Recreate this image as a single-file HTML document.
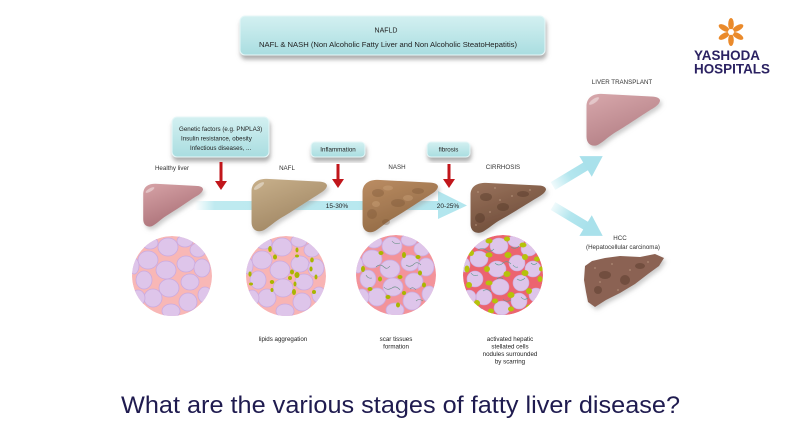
<!DOCTYPE html>
<html><head><meta charset="utf-8"><style>
html,body{margin:0;padding:0;background:#fff;}
svg{display:block;font-family:"Liberation Sans",sans-serif;}
</style></head><body>
<svg width="800" height="445" viewBox="0 0 800 445" xmlns="http://www.w3.org/2000/svg">
<defs>
  <path id="liver" d="M2,14 C3,5 10,1 22,1 L88,4 C96,4 100,6 100,9 C99,13 94,16 88,19 C75,26 55,38 39,46 C30,51 22,58 16,60 C8,62 2,58 2,50 Z"/>
  <linearGradient id="gH" x1="0" y1="0" x2="0.5" y2="1"><stop offset="0" stop-color="#d7a3a7"/><stop offset="1" stop-color="#aa7077"/></linearGradient>
  <linearGradient id="gT" x1="0" y1="0" x2="0.5" y2="1"><stop offset="0" stop-color="#d8a8ac"/><stop offset="1" stop-color="#b37f85"/></linearGradient>
  <linearGradient id="gN" x1="0" y1="0" x2="0.5" y2="1"><stop offset="0" stop-color="#c8b08b"/><stop offset="1" stop-color="#a08663"/></linearGradient>
  <linearGradient id="gS" x1="0" y1="0" x2="0.5" y2="1"><stop offset="0" stop-color="#bb8d63"/><stop offset="1" stop-color="#916944"/></linearGradient>
  <linearGradient id="gC" x1="0" y1="0" x2="0.5" y2="1"><stop offset="0" stop-color="#9a735c"/><stop offset="1" stop-color="#6e4c39"/></linearGradient>
  <linearGradient id="box" x1="0" y1="0" x2="0" y2="1"><stop offset="0" stop-color="#d3f0f1"/><stop offset="1" stop-color="#a9dde0"/></linearGradient>
  <linearGradient id="band" x1="0" y1="0" x2="1" y2="0"><stop offset="0" stop-color="#bfeaf0" stop-opacity="0"/><stop offset="0.08" stop-color="#bfeaf0"/><stop offset="1" stop-color="#b3e6ee"/></linearGradient>
  <linearGradient id="diag" x1="0" y1="0" x2="1" y2="0"><stop offset="0" stop-color="#b3e6ee" stop-opacity="0.2"/><stop offset="0.5" stop-color="#b3e6ee"/><stop offset="1" stop-color="#a9e1eb"/></linearGradient>
  <filter id="sh" x="-20%" y="-20%" width="140%" height="160%"><feDropShadow dx="1" dy="4" stdDeviation="2" flood-color="#777" flood-opacity="0.6"/></filter>
  <filter id="lsh" x="-20%" y="-20%" width="140%" height="160%"><feDropShadow dx="2" dy="3" stdDeviation="2" flood-color="#999" flood-opacity="0.5"/></filter>
  <clipPath id="cc"><circle r="40"/></clipPath>
  <g id="cells" fill="#dec5ea" stroke="#cbaadf" stroke-width="0.8">
    <ellipse cx="-4" cy="-29" rx="10" ry="9"/>
    <ellipse cx="-24" cy="-16" rx="10" ry="9"/>
    <ellipse cx="-6" cy="-6" rx="10" ry="9"/>
    <ellipse cx="14" cy="-12" rx="9" ry="8"/>
    <ellipse cx="26" cy="-26" rx="8" ry="7"/>
    <ellipse cx="30" cy="-8" rx="8" ry="9"/>
    <ellipse cx="-28" cy="4" rx="8" ry="9"/>
    <ellipse cx="-3" cy="12" rx="10" ry="9"/>
    <ellipse cx="18" cy="6" rx="9" ry="8"/>
    <ellipse cx="-19" cy="22" rx="9" ry="9"/>
    <ellipse cx="16" cy="26" rx="9" ry="9"/>
    <ellipse cx="-1" cy="35" rx="9" ry="7"/>
    <ellipse cx="-34" cy="22" rx="7" ry="8"/>
    <ellipse cx="33" cy="19" rx="7" ry="8"/>
    <ellipse cx="-22" cy="-33" rx="8" ry="6"/>
    <ellipse cx="13" cy="-35" rx="8" ry="6"/>
    <ellipse cx="-38" cy="-10" rx="5" ry="8"/>
  </g>
</defs>

<!-- NAFLD box -->
<rect x="240" y="16" width="305" height="39" rx="5" fill="url(#box)" stroke="#e6f7f8" stroke-width="1" filter="url(#sh)"/>
<text x="386" y="32.5" font-size="7" text-anchor="middle" fill="#222">NAFLD</text>
<text x="259" y="47" font-size="7" fill="#222" textLength="258" lengthAdjust="spacingAndGlyphs">NAFL &amp; NASH (Non Alcoholic Fatty Liver  and Non Alcoholic SteatoHepatitis)</text>

<!-- Logo -->
<g transform="translate(731,32)" fill="#ea8a2b">
  <ellipse cx="0" cy="-8" rx="2.8" ry="6"/>
  <ellipse cx="0" cy="-8" rx="2.8" ry="6" transform="rotate(60)"/>
  <ellipse cx="0" cy="-8" rx="2.8" ry="6" transform="rotate(120)"/>
  <ellipse cx="0" cy="-8" rx="2.8" ry="6" transform="rotate(180)"/>
  <ellipse cx="0" cy="-8" rx="2.8" ry="6" transform="rotate(240)"/>
  <ellipse cx="0" cy="-8" rx="2.8" ry="6" transform="rotate(300)"/>
  <circle r="3" fill="#fff"/>
</g>
<text x="694" y="60" font-size="13.5" font-weight="bold" fill="#2b2262" textLength="66" lengthAdjust="spacingAndGlyphs">YASHODA</text>
<text x="694" y="73.5" font-size="13.5" font-weight="bold" fill="#2b2262" textLength="76" lengthAdjust="spacingAndGlyphs">HOSPITALS</text>

<!-- Genetic factors box -->
<rect x="172" y="117" width="97" height="40" rx="5" fill="url(#box)" stroke="#e6f7f8" filter="url(#sh)"/>
<text x="179" y="131" font-size="6.2" fill="#222">Genetic factors (e.g. PNPLA3)</text>
<text x="181" y="140.5" font-size="6.2" fill="#222">Insulin resistance, obesity</text>
<text x="190" y="150" font-size="6.2" fill="#222">Infectious diseases, ...</text>

<!-- Inflammation / fibrosis boxes -->
<rect x="311" y="142" width="54" height="15" rx="4" fill="url(#box)" stroke="#e6f7f8" filter="url(#sh)"/>
<text x="338" y="151.5" font-size="6.2" text-anchor="middle" fill="#222">Inflammation</text>
<rect x="427" y="142" width="43" height="15" rx="4" fill="url(#box)" stroke="#e6f7f8" filter="url(#sh)"/>
<text x="448.5" y="151.5" font-size="6.2" text-anchor="middle" fill="#222">fibrosis</text>

<!-- Red arrows -->
<g fill="#c1161b">
  <rect x="219.5" y="162" width="3" height="20"/><polygon points="215,181 227,181 221,190"/>
  <rect x="336.5" y="164" width="3" height="16"/><polygon points="332,179 344,179 338,188"/>
  <rect x="447.5" y="164" width="3" height="16"/><polygon points="443,179 455,179 449,188"/>
</g>

<!-- Stage labels -->
<g font-size="6.2" fill="#333" text-anchor="middle">
  <text x="172" y="170">Healthy liver</text>
  <text x="287" y="170">NAFL</text>
  <text x="397" y="169">NASH</text>
  <text x="503" y="169">CIRRHOSIS</text>
  <text x="622" y="84">LIVER TRANSPLANT</text>
  <text x="620" y="240">HCC</text>
  <text x="623" y="249">(Hepatocellular carcinoma)</text>
</g>

<!-- Horizontal band -->
<rect x="195" y="201" width="245" height="9" fill="url(#band)"/>
<polygon points="438,191 467,205.5 438,219" fill="#b3e6ee"/>
<text x="337" y="208" font-size="6.5" text-anchor="middle" fill="#222">15-30%</text>
<text x="448" y="208" font-size="6.5" text-anchor="middle" fill="#222">20-25%</text>

<!-- Diagonal arrows -->
<g transform="translate(553,186) rotate(-31)">
  <rect x="0" y="-4.5" width="40" height="9" fill="url(#diag)"/>
  <polygon points="38,-12 58,0 38,12" fill="#a9e1eb"/>
</g>
<g transform="translate(553,206) rotate(31)">
  <rect x="0" y="-4.5" width="40" height="9" fill="url(#diag)"/>
  <polygon points="38,-12 58,0 38,12" fill="#a9e1eb"/>
</g>

<!-- Livers -->
<g filter="url(#lsh)">
  <use href="#liver" transform="translate(142,183) scale(0.61,0.72)" fill="url(#gH)"/>
  <use href="#liver" transform="translate(250,178) scale(0.77,0.88)" fill="url(#gN)"/>
  <use href="#liver" transform="translate(361,179) scale(0.77,0.88)" fill="url(#gS)"/>
  <use href="#liver" transform="translate(469,182) scale(0.77,0.84)" fill="url(#gC)"/>
  <use href="#liver" transform="translate(585,93) scale(0.75,0.87)" fill="url(#gT)"/>
  <path d="M585,266 L592,261 L605,258 L620,256 L640,257 L655,254 L664,258 L659,266 L648,274 L635,284 L620,293 L606,300 L595,307 L588,302 L586,292 L584,280 Z" fill="#8b6253"/>
</g>
<!-- highlights -->
<g fill="#fff" opacity="0.4">
  <ellipse cx="150" cy="190" rx="5" ry="1.6" transform="rotate(-30 150 190)"/>
  <ellipse cx="259" cy="186" rx="6" ry="2" transform="rotate(-35 259 186)"/>
  <ellipse cx="594" cy="101" rx="6" ry="2" transform="rotate(-35 594 101)"/>
</g>
<!-- mottling -->
<g fill="#7a5535" opacity="0.35">
  <ellipse cx="378" cy="193" rx="6" ry="4"/><ellipse cx="398" cy="203" rx="7" ry="4"/><ellipse cx="372" cy="214" rx="5" ry="5"/><ellipse cx="418" cy="191" rx="6" ry="3"/><ellipse cx="386" cy="222" rx="4" ry="3"/>
</g>
<g fill="#d4ad82" opacity="0.35">
  <ellipse cx="388" cy="188" rx="5" ry="2.5"/><ellipse cx="408" cy="198" rx="5" ry="3"/><ellipse cx="376" cy="204" rx="4" ry="3"/>
</g>
<g fill="#4e3325" opacity="0.4">
  <ellipse cx="486" cy="197" rx="6" ry="4"/><ellipse cx="503" cy="207" rx="6" ry="4"/><ellipse cx="480" cy="218" rx="5" ry="5"/><ellipse cx="523" cy="194" rx="6" ry="3"/>
  <ellipse cx="605" cy="275" rx="6" ry="4"/><ellipse cx="625" cy="280" rx="5" ry="5"/><ellipse cx="598" cy="290" rx="4" ry="4"/><ellipse cx="640" cy="266" rx="5" ry="3"/>
</g>
<g fill="#c9a890" opacity="0.6">
  <circle cx="478" cy="192" r="0.9"/><circle cx="495" cy="188" r="0.9"/><circle cx="512" cy="196" r="0.9"/><circle cx="530" cy="190" r="0.9"/><circle cx="490" cy="212" r="0.9"/><circle cx="476" cy="225" r="0.9"/><circle cx="500" cy="200" r="0.9"/>
  <circle cx="595" cy="268" r="0.9"/><circle cx="612" cy="264" r="0.9"/><circle cx="630" cy="270" r="0.9"/><circle cx="648" cy="262" r="0.9"/><circle cx="600" cy="282" r="0.9"/><circle cx="618" cy="290" r="0.9"/>
</g>

<!-- Circles -->
<g transform="translate(172,276)" clip-path="url(#cc)">
  <circle r="40" fill="#f8b7b6"/>
  <use href="#cells"/>
</g>
<g transform="translate(286,276)" clip-path="url(#cc)">
  <circle r="40" fill="#f8b4b4"/>
  <use href="#cells"/>
  <g fill="#a9b600">
    <ellipse cx="-16" cy="-27" rx="1.8" ry="3"/><ellipse cx="-11" cy="-19" rx="2" ry="2.5"/><ellipse cx="11" cy="-26" rx="1.5" ry="2.5"/><ellipse cx="11" cy="-20" rx="2" ry="1.5"/>
    <ellipse cx="26" cy="-16" rx="1.8" ry="2.5"/><ellipse cx="25" cy="-7" rx="1.6" ry="2.5"/><ellipse cx="6" cy="-4" rx="2" ry="2.5"/><ellipse cx="11" cy="-1" rx="2.5" ry="3"/>
    <ellipse cx="4" cy="2" rx="2" ry="2"/><ellipse cx="-14" cy="6" rx="2.2" ry="2"/><ellipse cx="9" cy="8" rx="1.5" ry="2.5"/><ellipse cx="30" cy="1" rx="1.5" ry="2.5"/>
    <ellipse cx="-36" cy="-2" rx="1.6" ry="2.6"/><ellipse cx="-35" cy="8" rx="2" ry="1.5"/><ellipse cx="8" cy="16" rx="2" ry="3"/><ellipse cx="-14" cy="14" rx="1.5" ry="2"/><ellipse cx="28" cy="16" rx="2" ry="2"/>
  </g>
</g>
<g transform="translate(396,275)" clip-path="url(#cc)">
  <circle r="40" fill="#f3939a"/>
  <use href="#cells"/>
  <g fill="#a9b600">
    <ellipse cx="-15" cy="-22" rx="2.5" ry="2"/><ellipse cx="8" cy="-20" rx="2" ry="3"/><ellipse cx="22" cy="-18" rx="2.5" ry="2"/><ellipse cx="-33" cy="-6" rx="2" ry="3"/>
    <ellipse cx="4" cy="2" rx="2.5" ry="2"/><ellipse cx="-16" cy="4" rx="2" ry="2.5"/><ellipse cx="24" cy="-2" rx="2" ry="2.5"/><ellipse cx="-8" cy="22" rx="2.5" ry="2"/>
    <ellipse cx="8" cy="18" rx="2" ry="2"/><ellipse cx="28" cy="10" rx="2" ry="2.5"/><ellipse cx="-26" cy="14" rx="2.5" ry="2"/><ellipse cx="2" cy="30" rx="2" ry="2.5"/>
  </g>
  <g fill="none" stroke="#6a8f86" stroke-width="0.6">
    <path d="M-20,-8 q4,-4 8,0 q3,3 6,-1"/><path d="M10,-10 q4,3 8,-1 q3,-3 7,1"/><path d="M-12,12 q3,4 8,1 q4,-3 8,2"/><path d="M14,14 q3,-3 6,1"/><path d="M-30,0 q2,4 6,3"/><path d="M-4,-34 q3,4 8,2"/><path d="M20,26 q3,-3 7,0"/>
  </g>
</g>
<g transform="translate(503,275)" clip-path="url(#cc)">
  <circle r="40" fill="#ec6470"/>
  <g fill="#dec5ea" stroke="#cbaadf" stroke-width="0.6">
    <ellipse cx="-4" cy="-29" rx="9" ry="8"/><ellipse cx="-24" cy="-16" rx="9" ry="8"/><ellipse cx="-6" cy="-6" rx="9" ry="8"/><ellipse cx="14" cy="-12" rx="8" ry="8"/>
    <ellipse cx="26" cy="-26" rx="8" ry="7"/><ellipse cx="30" cy="-6" rx="8" ry="8"/><ellipse cx="-28" cy="4" rx="8" ry="8"/><ellipse cx="-3" cy="12" rx="9" ry="8"/>
    <ellipse cx="18" cy="8" rx="8" ry="8"/><ellipse cx="-19" cy="22" rx="8" ry="8"/><ellipse cx="16" cy="26" rx="8" ry="8"/><ellipse cx="-1" cy="33" rx="8" ry="7"/>
    <ellipse cx="-34" cy="22" rx="7" ry="7"/><ellipse cx="33" cy="20" rx="7" ry="7"/><ellipse cx="-22" cy="-32" rx="8" ry="6"/><ellipse cx="13" cy="-34" rx="8" ry="6"/>
    <ellipse cx="-38" cy="-10" rx="5" ry="7"/>
  </g>
  <g fill="#b5c20a">
    <ellipse cx="-14" cy="-34" rx="3.5" ry="2.5"/><ellipse cx="4" cy="-36" rx="3" ry="2.5"/><ellipse cx="20" cy="-30" rx="3.5" ry="2.5"/><ellipse cx="-32" cy="-22" rx="3" ry="3"/>
    <ellipse cx="-14" cy="-20" rx="3.5" ry="2.5"/><ellipse cx="5" cy="-20" rx="3.5" ry="3"/><ellipse cx="22" cy="-18" rx="3" ry="3"/><ellipse cx="34" cy="-16" rx="3" ry="2.5"/>
    <ellipse cx="-36" cy="-6" rx="2.5" ry="3.5"/><ellipse cx="-16" cy="-6" rx="3" ry="3"/><ellipse cx="4" cy="-1" rx="3.5" ry="3"/><ellipse cx="22" cy="-2" rx="3.5" ry="3"/>
    <ellipse cx="37" cy="4" rx="2.5" ry="3"/><ellipse cx="-34" cy="10" rx="3" ry="3"/><ellipse cx="-14" cy="8" rx="3.5" ry="2.5"/><ellipse cx="8" cy="20" rx="3.5" ry="3"/>
    <ellipse cx="26" cy="16" rx="3" ry="3"/><ellipse cx="-26" cy="28" rx="3" ry="3"/><ellipse cx="-8" cy="26" rx="3" ry="2.5"/><ellipse cx="8" cy="34" rx="3" ry="2.5"/>
    <ellipse cx="26" cy="32" rx="3" ry="2.5"/><ellipse cx="-12" cy="36" rx="3" ry="2.5"/><ellipse cx="38" cy="-6" rx="2" ry="2.5"/>
  </g>
  <g fill="none" stroke="#5b9a90" stroke-width="0.6">
    <path d="M-25,-25 q4,-3 8,0 q4,3 8,-1"/><path d="M8,-28 q4,3 8,-1"/><path d="M-32,-2 q3,4 7,2"/><path d="M-8,-12 q4,4 8,0 q4,-3 8,1"/>
    <path d="M14,4 q4,3 8,-1"/><path d="M-20,16 q4,-3 8,1"/><path d="M0,24 q3,4 8,1"/><path d="M18,22 q3,4 7,1"/><path d="M-6,4 q3,-3 6,0"/>
    <path d="M28,-12 q3,3 6,0"/><path d="M-28,34 q3,-3 7,0"/><path d="M10,-10 q2,3 5,2"/>
  </g>
</g>

<!-- Circle captions -->
<g font-size="6.2" fill="#222" text-anchor="middle">
  <text x="283" y="341">lipids aggregation</text>
  <text x="396" y="341">scar tissues</text>
  <text x="396" y="348.5">formation</text>
  <text x="510" y="341">activated hepatic</text>
  <text x="510" y="348.5">stellated cells</text>
  <text x="510" y="356">nodules surrounded</text>
  <text x="510" y="363.5">by scarring</text>
</g>

<!-- Title -->
<text x="121" y="413" font-size="24" fill="#1f1b4f" textLength="559" lengthAdjust="spacingAndGlyphs">What are the various stages of fatty liver disease?</text>
</svg>
</body></html>
